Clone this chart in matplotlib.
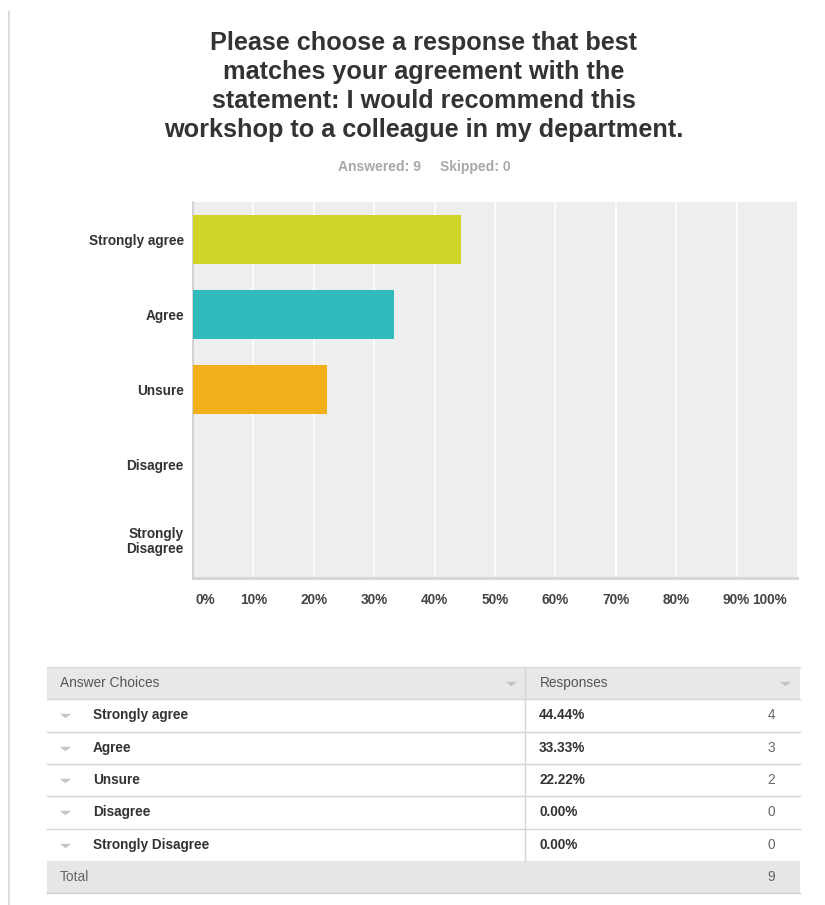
import matplotlib
matplotlib.use("Agg")
import matplotlib.pyplot as plt
from matplotlib.patches import Rectangle

plt.rcParams['font.family'] = ['Liberation Sans', 'DejaVu Sans']

# data
choices = ['Strongly agree', 'Agree', 'Unsure', 'Disagree', 'Strongly Disagree']
axis_labels = ['Strongly agree', 'Agree', 'Unsure', 'Disagree', 'Strongly\nDisagree']
percents = [44.44, 33.33, 22.22, 0.00, 0.00]
counts = [4, 3, 2, 0, 0]
bar_colors = ['#CFD427', '#30BBBD', '#F3AF19', '#E05D1C', '#7E57C2']
x_ticks = [0, 10, 20, 30, 40, 50, 60, 70, 80, 90, 100]

title_lines = ['Please choose a response that best',
               'matches your agreement with the',
               'statement: I would recommend this',
               'workshop to a colleague in my department.']
answered = 9
skipped = 0

W, H = 825, 905
fig = plt.figure(figsize=(W / 100, H / 100), dpi=100)
fig.patch.set_facecolor('white')

# overlay axes in pixel coordinates for title + table
tax = fig.add_axes([0, 0, 1, 1], zorder=0)
tax.set_xlim(0, W)
tax.set_ylim(H, 0)
tax.axis('off')

# left border line of the page
tax.plot([9, 9], [12, H], color='#DDDDDD', lw=1.5)

for i, line in enumerate(title_lines):
    tax.text(424, 43 + i * 29, line, ha='center', va='center',
             fontsize=18.2, fontweight='bold', color='#333333')

tax.text(421, 167, f'Answered: {answered}', ha='right', va='center',
         fontsize=10, fontweight='bold', color='#A8A8A8')
tax.text(440, 167, f'Skipped: {skipped}', ha='left', va='center',
         fontsize=10, fontweight='bold', color='#A8A8A8')

# ---- bar chart ----
left, right, top, bottom = 193, 797, 202, 578
ax = fig.add_axes([left / W, 1 - bottom / H, (right - left) / W, (bottom - top) / H], zorder=1)
ax.set_facecolor('#EEEEEE')
ypos = list(range(len(choices)))
ax.barh(ypos, percents, height=0.66, color=bar_colors, zorder=3)
ax.set_xlim(0, 100)
ax.set_ylim(4.52, -0.5)
ax.set_xticks(x_ticks[1:-1])
ax.xaxis.grid(True, color='white', lw=1.2, zorder=0)
ax.set_axisbelow(True)
ax.tick_params(axis='x', length=0, labelbottom=False)
ax.set_yticks(ypos)
ax.set_yticklabels(axis_labels, fontsize=9.8, fontweight='bold', color='#333333',
                   linespacing=1.1)
ax.tick_params(axis='y', length=0, pad=6.5)
for s in ['top', 'right']:
    ax.spines[s].set_visible(False)
ax.spines['left'].set_color('#CCCCCC')
ax.spines['left'].set_linewidth(1.2)
ax.spines['bottom'].set_color('#D6D6D6')
ax.spines['bottom'].set_linewidth(2.2)

for t in x_ticks:
    ha, dx = 'center', 0
    if t == x_ticks[0]:
        ha, dx = 'left', 2
    elif t == x_ticks[-1]:
        ha, dx = 'right', -10
    ax.annotate(f'{t}%', xy=(t, 0), xycoords=('data', 'axes fraction'),
                xytext=(dx * 0.72, -22 * 0.72), textcoords='offset points',
                ha=ha, va='center', fontsize=9.8, fontweight='bold', color='#444444')

# ---- table ----
t_left, t_right, div_x = 47, 800, 525
row_top = 667
row_h = 32.3
n_rows = len(choices) + 2

def tri(x, y):
    tax.plot([x], [y], marker=[(-1, 0.3), (1, 0.3), (0, -0.5)], ms=8,
             color='#C4C4C4', mec='none')

# header
tax.add_patch(Rectangle((t_left, row_top), t_right - t_left, row_h,
                        facecolor='#E8E8E8', edgecolor='none'))
tax.plot([t_left, t_right], [row_top, row_top], color='#DCDCDC', lw=1)
yc = row_top + row_h / 2
tax.text(60, yc, 'Answer Choices', ha='left', va='center', fontsize=9.9, color='#555555')
tax.text(540, yc, 'Responses', ha='left', va='center', fontsize=9.9, color='#555555')
tri(511, yc)
tri(785, yc)

for i, (name, p, c) in enumerate(zip(choices, percents, counts)):
    y0 = row_top + row_h * (i + 1)
    yc = y0 + row_h / 2
    tax.plot([t_left, t_right], [y0, y0], color='#D6D6D6', lw=1)
    tri(65, yc)
    tax.text(93, yc, name, ha='left', va='center', fontsize=9.8,
             fontweight='bold', color='#333333')
    tax.text(539, yc, f'{p:.2f}%', ha='left', va='center', fontsize=9.8,
             fontweight='bold', color='#333333')
    tax.text(771, yc, str(c), ha='center', va='center', fontsize=9.8, color='#666666')

# column divider
tax.plot([div_x, div_x], [row_top, row_top + row_h * (n_rows - 1)], color='#D6D6D6', lw=1)

# total row
y0 = row_top + row_h * (n_rows - 1)
tax.add_patch(Rectangle((t_left, y0), t_right - t_left, row_h,
                        facecolor='#E6E6E6', edgecolor='none'))
tax.plot([t_left, t_right], [y0 + row_h, y0 + row_h], color='#D0D0D0', lw=1)
tax.text(60, y0 + row_h / 2, 'Total', ha='left', va='center', fontsize=9.9, color='#666666')
tax.text(771, y0 + row_h / 2, str(sum(counts)), ha='center', va='center',
         fontsize=9.8, color='#666666')

fig.savefig('out.png', dpi=100)
